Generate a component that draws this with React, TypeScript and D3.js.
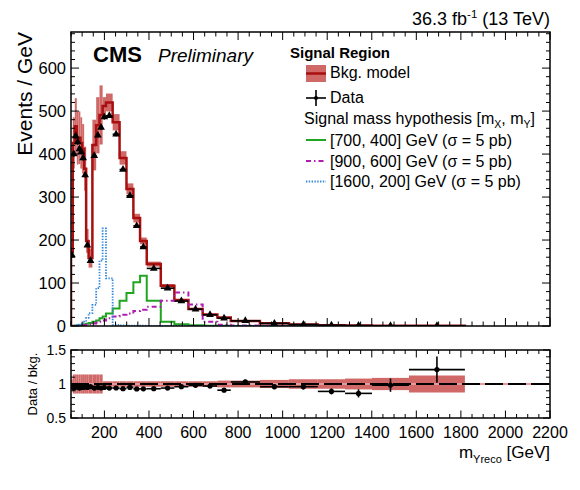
import * as d3 from "d3";

// bin edges in GeV (variable binning)
const binEdges = [
  50, 58, 67, 76, 84, 92, 100, 109, 118, 129, 146, 163, 178, 192, 207, 237,
  268, 299, 330, 360, 390, 453, 514, 577, 641, 707, 767, 898, 1028, 1158,
  1280, 1401, 1567, 1818,
];

// Events / GeV
const dataValues = [
  165, 400, 442, 428, 412, 405, 391, 351, 188, 152, 396, 444, 462, 486, 489,
  446, 364, 303, 233, 184, 134, 88, 58, 39, 26, 18, 12, 6.0, 3.4, 1.8, 1.0,
  0.6, 0.4,
];
const dataRelErr = [
  0.02, 0.015, 0.015, 0.015, 0.015, 0.015, 0.015, 0.015, 0.02, 0.02, 0.012,
  0.012, 0.012, 0.012, 0.01, 0.01, 0.01, 0.012, 0.012, 0.015, 0.012, 0.015,
  0.02, 0.02, 0.025, 0.03, 0.03, 0.04, 0.045, 0.05, 0.07, 0.1, 0.16,
];
const bkgValues = [
  172, 426, 465, 437, 438, 426, 412, 366, 198, 158, 421, 467, 491, 512, 520,
  474, 391, 319, 251, 198, 144, 93.6, 60.4, 39.8, 26.8, 19.8, 11.65, 6.25,
  3.54, 2.02, 1.16, 0.61, 0.33,
];
const bkgRelUnc = [
  0.07, 0.14, 0.14, 0.14, 0.14, 0.14, 0.14, 0.14, 0.14, 0.14, 0.14, 0.14, 0.14,
  0.04, 0.04, 0.04, 0.04, 0.04, 0.04, 0.04, 0.04, 0.04, 0.04, 0.04, 0.04,
  0.05, 0.05, 0.06, 0.07, 0.07, 0.08, 0.09, 0.125,
];

// signal hypotheses, sigma = 5 pb
const sig700_400 = [
  0.2, 0.3, 0.5, 1, 1.5, 2, 3, 4, 5, 7, 10, 13, 18, 22, 29, 41, 59, 77, 102,
  117, 59, 10, 4, 1.5, 0.8, 0.4, 0.2, 0.1, 0.05, 0, 0, 0, 0,
];
const sig900_600 = [
  0.1, 0.2, 0.4, 0.6, 1, 1.5, 2, 2.5, 3, 4, 6, 8, 10, 13, 18, 22, 26, 29, 35,
  38, 45, 59, 78, 50, 10, 3, 1, 0.3, 0.1, 0, 0, 0, 0,
];
const sig1600_200 = [
  0.5, 1, 1.5, 2, 3, 4, 6, 10, 19, 30, 49, 88, 152, 227, 111, 2.5, 1.5, 1,
  0.8, 0.6, 0.5, 0.4, 0.3, 0.2, 0.1, 0.05, 0, 0, 0, 0, 0, 0, 0,
];

const xTickLabels = [200, 400, 600, 800, 1000, 1200, 1400, 1600, 1800, 2000, 2200];
const yTickLabels = [0, 100, 200, 300, 400, 500, 600];
const ratioTickLabels = [0.5, 1, 1.5];

const BAND = "#d06868";
const BKG = "#a80f0f";
const GREEN = "#1fa51f";
const MAGENTA = "#b01cb0";
const BLUE = "#3388dd";
const FONT = "'Liberation Sans', Arial, Helvetica, sans-serif";

const L = 71,
  R = 550,
  T = 32,
  B = 326,
  RT = 350,
  RB = 418;

function stepPath(
  values: number[],
  x: d3.ScaleLinear<number, number>,
  y: d3.ScaleLinear<number, number>
) {
  const pts: [number, number][] = [[binEdges[0], 0]];
  values.forEach((v, i) => {
    pts.push([binEdges[i], v]);
    pts.push([binEdges[i + 1], v]);
  });
  pts.push([binEdges[binEdges.length - 1], 0]);
  return (
    d3
      .line<[number, number]>()
      .x((d) => x(d[0]))
      .y((d) => y(d[1]))(pts) ?? ""
  );
}

export default function App() {
  const x = d3.scaleLinear().domain([50, 2200]).range([L, R]);
  const y = d3.scaleLinear().domain([0, 684]).range([B, T]);
  const yr = d3.scaleLinear().domain([0.5, 1.5]).range([RB, RT]);

  const bins = dataValues.map((v, i) => ({
    lo: binEdges[i],
    hi: binEdges[i + 1],
    mid: (binEdges[i] + binEdges[i + 1]) / 2,
    data: v,
    err: v * dataRelErr[i],
    bkg: bkgValues[i],
    unc: bkgRelUnc[i],
  }));

  const xMinor = d3.range(50, 2201, 50);
  const yMinor = d3.range(0, 684, 20);
  const rMinor = d3.range(0.5, 1.501, 0.1);

  const tri = d3.symbol(d3.symbolTriangle, 26)() ?? "";

  return (
    <svg
      width={580}
      height={490}
      style={{ position: "absolute", left: 0, top: 0, background: "#fff" }}
      fontFamily={FONT}
    >
      <defs>
        <clipPath id="main-clip">
          <rect x={L} y={T} width={R - L} height={B - T} />
        </clipPath>
        <clipPath id="ratio-clip">
          <rect x={L} y={RT} width={R - L} height={RB - RT} />
        </clipPath>
      </defs>

      {/* main panel content */}
      <g clipPath="url(#main-clip)">
        {bins.map((b, i) => (
          <rect
            key={`band-${i}`}
            x={x(b.lo)}
            width={x(b.hi) - x(b.lo)}
            y={y(b.bkg * (1 + b.unc))}
            height={y(b.bkg * (1 - b.unc)) - y(b.bkg * (1 + b.unc))}
            fill={BAND}
          />
        ))}
        <path d={stepPath(bkgValues, x, y)} fill="none" stroke={BKG} strokeWidth={2.5} />
        <path d={stepPath(sig700_400, x, y)} fill="none" stroke={GREEN} strokeWidth={2} />
        <path
          d={stepPath(sig900_600, x, y)}
          fill="none"
          stroke={MAGENTA}
          strokeWidth={2}
          strokeDasharray="5 3 1.5 3"
        />
        <path
          d={stepPath(sig1600_200, x, y)}
          fill="none"
          stroke={BLUE}
          strokeWidth={1.8}
          strokeDasharray="1.4 1.4"
        />
        {bins.map((b, i) => (
          <g key={`data-${i}`}>
            <line x1={x(b.lo)} x2={x(b.hi)} y1={y(b.data)} y2={y(b.data)} stroke="#000" strokeWidth={1.6} />
            <line
              x1={x(b.mid)}
              x2={x(b.mid)}
              y1={y(b.data + b.err)}
              y2={y(b.data - b.err)}
              stroke="#000"
              strokeWidth={1.6}
            />
            <path d={tri} transform={`translate(${x(b.mid)},${y(b.data)})`} fill="#000" />
          </g>
        ))}
      </g>

      {/* main frame and ticks */}
      <rect x={L} y={T} width={R - L} height={B - T} fill="none" stroke="#000" strokeWidth={1.5} />
      {xMinor.map((t) => {
        const len = t % 200 === 0 ? 8 : 4.5;
        return (
          <g key={`mx-${t}`} stroke="#000" strokeWidth={1}>
            <line x1={x(t)} x2={x(t)} y1={B} y2={B - len} />
            <line x1={x(t)} x2={x(t)} y1={T} y2={T + len} />
          </g>
        );
      })}
      {yMinor.map((t) => {
        const len = t % 100 === 0 ? 8 : 4;
        return (
          <g key={`my-${t}`} stroke="#000" strokeWidth={1}>
            <line x1={L} x2={L + len} y1={y(t)} y2={y(t)} />
            <line x1={R} x2={R - len} y1={y(t)} y2={y(t)} />
          </g>
        );
      })}
      {yTickLabels.map((t) => (
        <text key={`yl-${t}`} x={66} y={y(t)} dy="0.36em" textAnchor="end" fontSize={16.5}>
          {t}
        </text>
      ))}

      {/* ratio panel content */}
      <g clipPath="url(#ratio-clip)">
        {bins.map((b, i) => (
          <rect
            key={`rband-${i}`}
            x={x(b.lo)}
            width={x(b.hi) - x(b.lo)}
            y={yr(1 + b.unc)}
            height={yr(1 - b.unc) - yr(1 + b.unc)}
            fill={BAND}
          />
        ))}
        <line x1={L} x2={R} y1={yr(1)} y2={yr(1)} stroke="#e89a9a" strokeWidth={2} />
        <line
          x1={L}
          x2={R}
          y1={yr(1)}
          y2={yr(1)}
          stroke="#000"
          strokeWidth={2}
          strokeDasharray="18 5"
        />
        {bins.map((b, i) => {
          const r = b.data / b.bkg;
          const e = r * dataRelErr[i];
          return (
            <g key={`rd-${i}`}>
              <line x1={x(b.lo)} x2={x(b.hi)} y1={yr(r)} y2={yr(r)} stroke="#000" strokeWidth={1.6} />
              <line x1={x(b.mid)} x2={x(b.mid)} y1={yr(r + e)} y2={yr(r - e)} stroke="#000" strokeWidth={1.6} />
              <circle cx={x(b.mid)} cy={yr(r)} r={2.6} fill="#000" />
            </g>
          );
        })}
      </g>

      {/* ratio frame and ticks */}
      <rect x={L} y={RT} width={R - L} height={RB - RT} fill="none" stroke="#000" strokeWidth={1.5} />
      {xMinor.map((t) => {
        const len = t % 200 === 0 ? 7.5 : 4;
        return (
          <g key={`rx-${t}`} stroke="#000" strokeWidth={1}>
            <line x1={x(t)} x2={x(t)} y1={RB} y2={RB - len} />
            <line x1={x(t)} x2={x(t)} y1={RT} y2={RT + len} />
          </g>
        );
      })}
      {rMinor.map((t) => {
        const major = Math.abs(t * 2 - Math.round(t * 2)) < 1e-6;
        const len = major ? 7 : 4;
        return (
          <g key={`ry-${t.toFixed(1)}`} stroke="#000" strokeWidth={1}>
            <line x1={L} x2={L + len} y1={yr(t)} y2={yr(t)} />
            <line x1={R} x2={R - len} y1={yr(t)} y2={yr(t)} />
          </g>
        );
      })}
      {ratioTickLabels.map((t) => (
        <text key={`rl-${t}`} x={66} y={yr(t)} dy="0.36em" textAnchor="end" fontSize={14}>
          {t}
        </text>
      ))}
      {xTickLabels.map((t) => (
        <text key={`xl-${t}`} x={x(t)} y={438} textAnchor="middle" fontSize={16}>
          {t}
        </text>
      ))}

      {/* axis titles */}
      <text x={R} y={458} textAnchor="end" fontSize={17}>
        m
        <tspan fontSize={11} dy={5}>
          Yreco
        </tspan>
        <tspan dy={-5}> [GeV]</tspan>
      </text>
      <text transform={`translate(32,${T}) rotate(-90)`} textAnchor="end" fontSize={21}>
        Events / GeV
      </text>
      <text transform={`translate(37,${(RT + RB) / 2}) rotate(-90)`} textAnchor="middle" fontSize={13}>
        Data / bkg.
      </text>

      {/* header */}
      <text x={R} y={25} textAnchor="end" fontSize={18}>
        36.3 fb
        <tspan fontSize={11.5} dy={-7}>
          -1
        </tspan>
        <tspan dy={7}> (13 TeV)</tspan>
      </text>
      <text x={93} y={62} fontSize={22} fontWeight="bold">
        CMS
      </text>
      <text x={158} y={62} fontSize={19} fontStyle="italic">
        Preliminary
      </text>

      {/* legend */}
      <text x={290} y={58} fontSize={15} fontWeight="bold">
        Signal Region
      </text>
      <rect x={306} y={65} width={20} height={17} fill={BAND} />
      <line x1={306} x2={326} y1={73.5} y2={73.5} stroke={BKG} strokeWidth={2.5} />
      <text x={330} y={78} fontSize={16}>
        Bkg. model
      </text>
      <line x1={306} x2={326} y1={98} y2={98} stroke="#000" strokeWidth={1.6} />
      <line x1={316} x2={316} y1={90} y2={106} stroke="#000" strokeWidth={1.6} />
      <circle cx={316} cy={98} r={2} fill="#000" />
      <text x={330} y={103} fontSize={16}>
        Data
      </text>
      <text x={304} y={124} fontSize={16}>
        Signal mass hypothesis [m
        <tspan fontSize={10.5} dy={4}>
          X
        </tspan>
        <tspan dy={-4}>, m</tspan>
        <tspan fontSize={10.5} dy={4}>
          Y
        </tspan>
        <tspan dy={-4}>]</tspan>
      </text>
      <line x1={306} x2={326} y1={140} y2={140} stroke={GREEN} strokeWidth={2} />
      <text x={330} y={145.5} fontSize={16}>
        [700, 400] GeV (σ = 5 pb)
      </text>
      <line x1={306} x2={326} y1={161} y2={161} stroke={MAGENTA} strokeWidth={2} strokeDasharray="5 3 1.5 3" />
      <text x={330} y={166.5} fontSize={16}>
        [900, 600] GeV (σ = 5 pb)
      </text>
      <line x1={306} x2={326} y1={181.5} y2={181.5} stroke={BLUE} strokeWidth={1.8} strokeDasharray="1.4 1.4" />
      <text x={330} y={187} fontSize={16}>
        [1600, 200] GeV (σ = 5 pb)
      </text>
    </svg>
  );
}
